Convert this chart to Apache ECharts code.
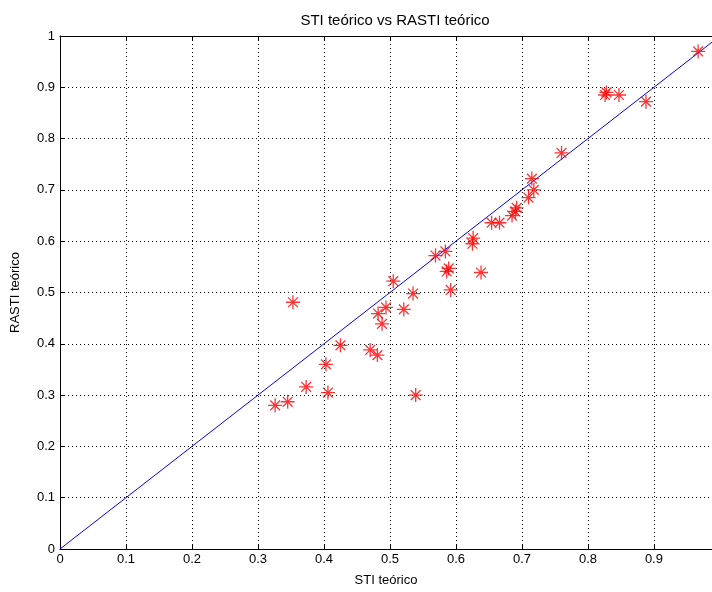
<!DOCTYPE html>
<html>
<head>
<meta charset="utf-8">
<script src="https://cdn.jsdelivr.net/npm/echarts@6/dist/echarts.min.js"></script>
<style>html,body{margin:0;padding:0;background:#fff;}#c{width:712px;height:592px;}</style>
</head>
<body>
<div id="c"></div>
<script>
const titleText = 'STI teórico vs RASTI teórico';
const xName = 'STI teórico';
const yName = 'RASTI teórico';
const stiValues = [0.326,0.345,0.353,0.373,0.403,0.406,0.425,0.470,0.481,0.482,0.488,0.494,0.505,0.521,0.535,0.539,0.569,0.584,0.586,0.589,0.592,0.625,0.626,0.638,0.654,0.666,0.685,0.690,0.692,0.710,0.715,0.718,0.760,0.826,0.828,0.847,0.888,0.967];
const rastiValues = [0.280,0.287,0.481,0.316,0.360,0.305,0.397,0.388,0.378,0.459,0.439,0.471,0.522,0.467,0.498,0.300,0.572,0.580,0.541,0.547,0.505,0.595,0.606,0.539,0.636,0.636,0.650,0.658,0.665,0.685,0.722,0.700,0.772,0.885,0.890,0.885,0.872,0.970];
const refLine = [[0,0],[1,1]];
const xVisibleMax = 0.988;

const points = stiValues.map((v,i)=>[v, rastiValues[i]]);
const font = 'Liberation Sans, Arial, sans-serif';
const fmt = v => String(Math.round(v*10)/10);
const chart = echarts.init(document.getElementById('c'));
chart.setOption({
  animation:false,
  backgroundColor:'#fff',
  title:{text:titleText,left:390,top:8,textAlign:'center',
    textStyle:{fontFamily:font,fontSize:15,fontWeight:'normal',color:'#000'}},
  grid:{left:60,right:0,top:36,bottom:42,show:false},
  xAxis:[{type:'value',min:0,max:xVisibleMax,interval:0.1,
    name:xName,nameLocation:'middle',nameGap:25,
    nameTextStyle:{fontFamily:font,fontSize:13,color:'#000'},
    axisLine:{show:true,lineStyle:{color:'#000'}},
    axisTick:{show:true,inside:true,length:5,lineStyle:{color:'#000'}},
    axisLabel:{fontFamily:font,fontSize:13,color:'#000',margin:4,showMaxLabel:false,formatter:fmt},
    splitLine:{show:true,lineStyle:{type:[1,3],color:'#000',width:1}}},
   {type:'value',min:0,max:xVisibleMax,interval:0.1,position:'top',
    axisLine:{show:true,lineStyle:{color:'#000'}},
    axisTick:{show:true,inside:true,length:5,lineStyle:{color:'#000'}},
    axisLabel:{show:false},splitLine:{show:false}}],
  yAxis:{type:'value',min:0,max:1,interval:0.1,
    name:yName,nameLocation:'middle',nameGap:38,nameRotate:90,
    nameTextStyle:{fontFamily:font,fontSize:13,color:'#000'},
    axisLine:{show:true,lineStyle:{color:'#000'}},
    axisTick:{show:true,inside:true,length:5,lineStyle:{color:'#000'}},
    axisLabel:{fontFamily:font,fontSize:13,color:'#000',margin:5,formatter:fmt},
    splitLine:{show:true,lineStyle:{type:[1,3],color:'#000',width:1}}},
  series:[
    {type:'line',data:refLine,showSymbol:false,symbol:'none',
     lineStyle:{color:'#0000ff',width:1},z:2,clip:true},
    {type:'scatter',data:points,
     symbol:'path://M0,-10L0,10M-10,0L10,0M-7,-7L7,7M-7,7L7,-7',
     symbolSize:14,
     itemStyle:{color:'rgba(0,0,0,0)',borderColor:'#ff0000',borderWidth:1.3},z:3}
  ]
});
</script>
</body>
</html>
